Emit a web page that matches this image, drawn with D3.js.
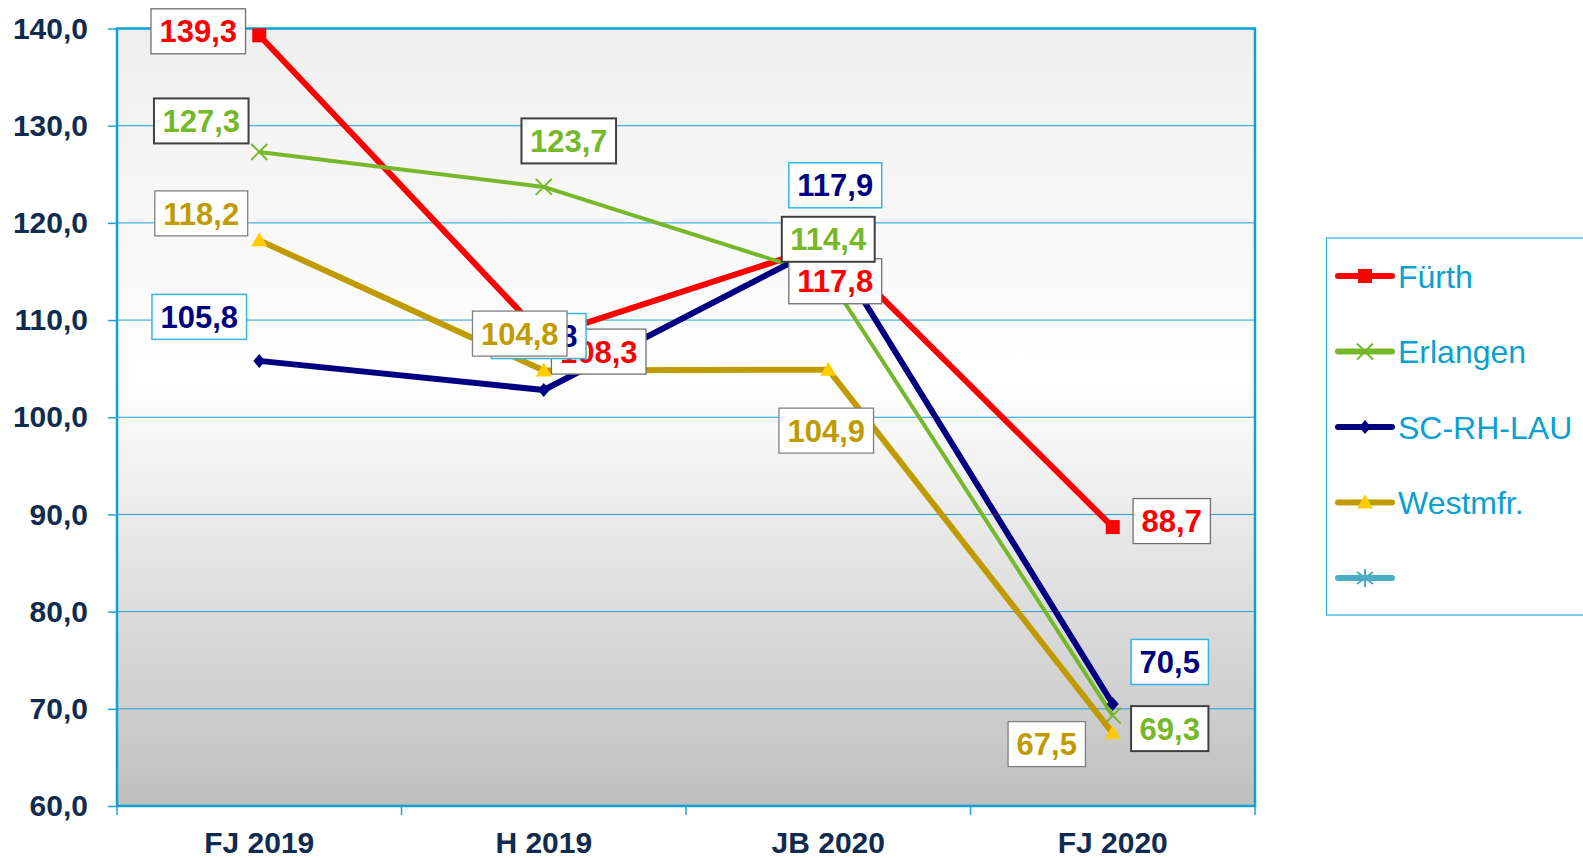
<!DOCTYPE html>
<html>
<head>
<meta charset="utf-8">
<script src="https://cdn.jsdelivr.net/npm/d3@7"></script>
<style>
  body { margin: 0; background: #fff; }
  text { font-family: "Liberation Sans", Arial, sans-serif; }
</style>
</head>
<body>
<script>
var categories = ["FJ 2019", "H 2019", "JB 2020", "FJ 2020"];
var seriesNames = ["Fürth", "Erlangen", "SC-RH-LAU", "Westmfr.", ""];
var fuerth   = [139.3, 108.3, 117.8, 88.7];
var erlangen = [127.3, 123.7, 114.4, 69.3];
var scrhlau  = [105.8, 102.8, 117.9, 70.5];
var westmfr  = [118.2, 104.8, 104.9, 67.5];
var yTicks = [60, 70, 80, 90, 100, 110, 120, 130, 140];

var width = 1583,
    height = 858;

var svg = d3.select("body").append("svg")
    .attr("width", width)
    .attr("height", height);

var x = d3.scaleBand().domain(categories).range([117, 1255]);
var y = d3.scaleLinear().domain([60, 140]).range([806, 28.5]);
var cx = function(c){ return x(c) + x.bandwidth() / 2 }

var fmt = function(v){ return d3.format(".1f")(v).replace(".", ",") }

// background gradient
var grad = svg.append("defs").append("linearGradient")
    .attr("id", "bg").attr("x1", 0).attr("y1", 0).attr("x2", 0).attr("y2", 1);
grad.append("stop").attr("offset", "0%").attr("stop-color", "#efefef");
grad.append("stop").attr("offset", "45%").attr("stop-color", "#ffffff");
grad.append("stop").attr("offset", "100%").attr("stop-color", "#bfbfbf");

svg.append("rect")
    .attr("x", 117).attr("y", y(140))
    .attr("width", 1255 - 117).attr("height", y(60) - y(140))
    .attr("fill", "url(#bg)");

// gridlines
svg.append("g").selectAll("line")
  .data(yTicks)
  .enter().append("line")
    .attr("x1", 117).attr("x2", 1255)
    .attr("y1", function(d){ return y(d) })
    .attr("y2", function(d){ return y(d) })
    .attr("stroke", "#1aa3d6")
    .attr("stroke-width", 1);

// y axis
var yAxis = svg.append("g")
    .attr("transform", "translate(117,0)")
    .call(d3.axisLeft(y).tickValues(yTicks).tickSize(9).tickPadding(20).tickFormat(fmt));
yAxis.select(".domain").remove();
yAxis.selectAll("line").attr("stroke", "#1aa3d6").attr("stroke-width", 1.5);
yAxis.selectAll("text")
    .attr("font-size", "30px").attr("font-weight", "bold")
    .attr("fill", "#0f2b50").attr("font-family", "Liberation Sans, Arial, sans-serif");

// x axis labels
var xAxis = svg.append("g")
    .attr("transform", "translate(0,806)")
    .call(d3.axisBottom(x).tickSize(0).tickPadding(26));
xAxis.select(".domain").remove();
xAxis.selectAll("text")
    .attr("font-size", "30px").attr("font-weight", "bold")
    .attr("fill", "#0f2b50").attr("font-family", "Liberation Sans, Arial, sans-serif");

// x ticks on band boundaries
var bounds = categories.map(function(c){ return x(c) }).concat([x.range()[1]]);
svg.append("g").selectAll("line")
  .data(bounds)
  .enter().append("line")
    .attr("x1", function(d){ return d }).attr("x2", function(d){ return d })
    .attr("y1", 806).attr("y2", 815)
    .attr("stroke", "#1aa3d6").attr("stroke-width", 1.5);

// plot border
svg.append("rect")
    .attr("x", 117).attr("y", y(140))
    .attr("width", 1255 - 117).attr("height", y(60) - y(140))
    .attr("fill", "none").attr("stroke", "#0aa2d6").attr("stroke-width", 2.5);

var series = [
  { name: seriesNames[0], values: fuerth,   color: "#ff0000", width: 6, marker: "square",
    box: "#707070", boxW: 1.3,
    offs: [[-61, -4], [55, 15], [7, 37], [59, -6]] },
  { name: seriesNames[1], values: erlangen, color: "#77b82b", width: 4, marker: "x",
    box: "#404040", boxW: 2,
    offs: [[-58, -31], [25, -46], [0, -38], [57, 13]] },
  { name: seriesNames[2], values: scrhlau,  color: "#000080", width: 6, marker: "diamond",
    box: "#33b5e5", boxW: 1.5,
    offs: [[-60, -44], [-5, -54], [7, -58], [57, -42]] },
  { name: seriesNames[3], values: westmfr,  color: "#c09b00", width: 6, marker: "triangle",
    box: "#808080", boxW: 1.3,
    offs: [[-58, -27], [-24, -37], [-2, 61], [-66, 11]] }
];
var textColors = ["#ff0000", "#77b82b", "#000080", "#c09b00"];

function drawMarker(g, type, px, py, color){
  if (type === "square") {
    g.append("rect").attr("x", px - 7).attr("y", py - 7)
      .attr("width", 14).attr("height", 14).attr("fill", "#ff0000");
  } else if (type === "x") {
    g.append("path")
      .attr("d", "M" + (px - 8) + "," + (py - 8) + "L" + (px + 8) + "," + (py + 8) +
                 "M" + (px - 8) + "," + (py + 8) + "L" + (px + 8) + "," + (py - 8))
      .attr("stroke", "#77b82b").attr("stroke-width", 2);
  } else if (type === "diamond") {
    g.append("path")
      .attr("d", "M" + px + "," + (py - 7) + "L" + (px + 6) + "," + py +
                 "L" + px + "," + (py + 7) + "L" + (px - 6) + "," + py + "Z")
      .attr("fill", "#000080");
  } else if (type === "triangle") {
    g.append("path")
      .attr("d", "M" + px + "," + (py - 8) + "L" + (px + 8) + "," + (py + 6) +
                 "L" + (px - 8) + "," + (py + 6) + "Z")
      .attr("fill", "#ffcc00");
  } else if (type === "star") {
    g.append("path")
      .attr("d", "M" + px + "," + (py - 9) + "L" + px + "," + (py + 9) +
                 "M" + (px - 8) + "," + (py - 6) + "L" + (px + 8) + "," + (py + 6) +
                 "M" + (px - 8) + "," + (py + 6) + "L" + (px + 8) + "," + (py - 6))
      .attr("stroke", color).attr("stroke-width", 2);
  }
}

var line = d3.line()
  .x(function(d, i){ return cx(categories[i]) })
  .y(function(d){ return y(d) });

// lines + markers
series.forEach(function(s){
  var g = svg.append("g");
  g.append("path")
    .datum(s.values)
    .attr("d", line)
    .attr("fill", "none")
    .attr("stroke", s.color)
    .attr("stroke-width", s.width)
    .attr("stroke-linejoin", "round");
  s.values.forEach(function(v, i){
    drawMarker(g, s.marker, cx(categories[i]), y(v), s.color);
  });
});

// data labels
series.forEach(function(s, si){
  var g = svg.append("g");
  s.values.forEach(function(v, i){
    var px = cx(categories[i]) + s.offs[i][0],
        py = y(v) + s.offs[i][1];
    var lg = g.append("g");
    var r = lg.append("rect");
    var t = lg.append("text")
      .attr("x", px).attr("y", py).attr("dy", "0.36em")
      .attr("text-anchor", "middle")
      .attr("font-size", "31px").attr("font-weight", "bold")
      .attr("fill", textColors[si])
      .text(fmt(v));
    var w = t.node().getComputedTextLength() + 17;
    r.attr("x", px - w / 2).attr("y", py - 22.5)
      .attr("width", w).attr("height", 45)
      .attr("fill", "#fff").attr("stroke", s.box).attr("stroke-width", s.boxW);
  });
});

// legend
var legendColors = ["#ff0000", "#77b82b", "#000080", "#c09b00", "#4bacc6"];
var legendMarkers = ["square", "x", "diamond", "triangle", "star"];
svg.append("rect")
  .attr("x", 1326.5).attr("y", 238)
  .attr("width", 300).attr("height", 377)
  .attr("fill", "#fff").attr("stroke", "#2ab0dc").attr("stroke-width", 1.2);

var leg = svg.append("g").selectAll("g")
  .data(seriesNames)
  .enter().append("g")
  .attr("transform", function(d, i){ return "translate(0," + (276 + i * 75.5) + ")" });

leg.each(function(d, i){
  var g = d3.select(this);
  g.append("line").attr("x1", 1338).attr("x2", 1392).attr("y1", 0).attr("y2", 0)
    .attr("stroke", legendColors[i]).attr("stroke-width", 6).attr("stroke-linecap", "round");
  drawMarker(g, legendMarkers[i], 1365, 0, legendColors[i]);
  g.append("text").attr("x", 1398).attr("y", 0).attr("dy", "0.36em")
    .attr("font-size", "32px").attr("fill", "#0a9fd2")
    .text(d);
});
</script>
</body>
</html>
